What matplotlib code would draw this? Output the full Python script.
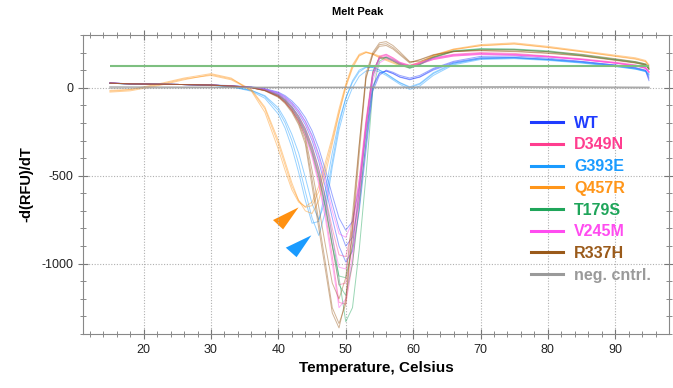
import numpy as np
import matplotlib
matplotlib.use("Agg")
from matplotlib import pyplot as plt
from matplotlib.lines import Line2D

plt.rcParams['font.family'] = ['Liberation Sans', 'DejaVu Sans']
plt.rcParams['axes.unicode_minus'] = False

# temperature grid (deg C) shared by all melt curves
temp = [15, 18, 22, 26, 30, 33, 36, 38, 40, 41, 42, 43, 44, 45, 46, 47, 48, 49, 50,
        51, 52, 53, 54, 55, 56, 57, 58, 59.5, 61, 63, 66, 70, 75, 80, 85, 90, 93, 94.5, 95]

# -d(RFU)/dT, one list per replicate
wt = [
    [28, 22, 20, 18, 16, 12, 5, -5, -25, -45, -75, -115, -170, -245, -345, -470, -610, -740, -810,
     -760, -560, -260, 10, 85, 95, 80, 60, 45, 60, 100, 140, 165, 170, 160, 145, 125, 110, 95, 40],
    [25, 22, 20, 18, 15, 10, 3, -8, -30, -52, -85, -130, -190, -270, -380, -510, -660, -800, -900,
     -850, -640, -320, 0, 80, 95, 82, 62, 48, 62, 105, 145, 170, 172, 162, 148, 128, 112, 98, 50],
    [27, 22, 20, 18, 15, 10, 2, -10, -35, -60, -95, -145, -210, -300, -420, -570, -740, -900, -990,
     -930, -700, -360, -20, 70, 100, 88, 70, 55, 70, 110, 150, 178, 180, 168, 150, 130, 115, 100, 60],
]
d349n = [
    [26, 22, 20, 18, 15, 10, 2, -12, -40, -68, -108, -160, -230, -330, -460, -620, -800, -950, -960,
     -800, -520, -180, 90, 170, 175, 155, 135, 122, 135, 160, 180, 190, 185, 175, 160, 140, 125, 110, 90],
    [26, 22, 20, 18, 15, 9, 0, -15, -45, -75, -118, -175, -250, -360, -500, -680, -900, -1120, -1110,
     -900, -580, -200, 80, 175, 185, 165, 140, 125, 140, 165, 185, 195, 190, 178, 160, 140, 125, 110, 85],
    [26, 22, 20, 18, 15, 9, 0, -15, -48, -80, -125, -185, -265, -380, -530, -720, -960, -1220, -1230,
     -1000, -640, -230, 70, 180, 190, 170, 145, 128, 145, 170, 190, 200, 195, 180, 165, 145, 130, 115, 90],
]
g393e = [
    [25, 22, 20, 18, 14, 6, -15, -50, -130, -200, -300, -430, -590, -740, -840, -700, -450, -240, -95,
     0, 65, 95, 100, 90, 70, 45, 20, -10, 10, 70, 130, 160, 165, 155, 140, 120, 105, 92, 70],
    [25, 22, 20, 18, 14, 5, -20, -60, -150, -230, -340, -480, -640, -770, -760, -580, -370, -190, -60,
     30, 90, 115, 115, 100, 78, 52, 28, 0, 20, 80, 135, 165, 168, 158, 142, 122, 106, 92, 75],
    [26, 22, 20, 18, 14, 6, -15, -45, -115, -180, -265, -370, -510, -660, -750, -640, -420, -210, -60,
     40, 100, 118, 115, 100, 80, 55, 30, 5, 25, 85, 140, 170, 172, 160, 145, 125, 108, 95, 78],
]
q457r = [
    [-15, -10, 20, 55, 80, 55, -20, -140, -350, -470, -580, -650, -676, -650, -560, -420, -280, -120, 20,
     130, 190, 205, 190, 170, 155, 140, 125, 115, 135, 180, 215, 240, 250, 230, 205, 180, 165, 150, 120],
    [-25, -18, 10, 45, 75, 50, -10, -110, -300, -420, -540, -640, -700, -715, -640, -490, -320, -150, 0,
     110, 180, 200, 195, 180, 165, 150, 135, 125, 145, 185, 220, 245, 255, 235, 210, 185, 170, 155, 130],
    [-20, -12, 15, 50, 70, 45, -15, -120, -320, -440, -560, -640, -680, -670, -590, -450, -300, -140, 10,
     120, 185, 200, 190, 175, 160, 145, 130, 120, 140, 182, 218, 238, 248, 228, 205, 178, 162, 148, 125],
]
t179s = [
    [25, 22, 20, 18, 15, 10, 2, -12, -40, -68, -108, -162, -235, -335, -465, -630, -840, -1080, -1330,
     -1250, -920, -500, -20, 150, 175, 160, 140, 115, 135, 175, 210, 222, 220, 210, 188, 162, 148, 135, 110],
    [25, 22, 20, 18, 15, 10, 2, -12, -42, -70, -110, -168, -245, -350, -490, -670, -890, -1120, -1180,
     -1000, -680, -300, 60, 165, 172, 155, 135, 112, 132, 172, 208, 220, 218, 205, 185, 160, 145, 132, 105],
    [25, 22, 20, 18, 15, 10, 2, -14, -45, -75, -118, -178, -260, -370, -510, -690, -900, -1070, -1080,
     -900, -580, -220, 90, 170, 170, 152, 130, 110, 130, 170, 205, 218, 215, 205, 182, 158, 142, 130, 105],
]
v245m = [
    [26, 22, 20, 18, 15, 10, 3, -8, -30, -55, -90, -135, -195, -280, -395, -540, -700, -830, -850,
     -760, -520, -230, 40, 140, 165, 155, 135, 118, 135, 160, 180, 188, 185, 175, 160, 140, 125, 112, 90],
    [26, 22, 20, 18, 15, 10, 2, -12, -40, -68, -110, -165, -240, -345, -480, -650, -850, -1020, -1030,
     -850, -560, -210, 70, 165, 180, 160, 140, 122, 140, 165, 185, 192, 188, 176, 160, 140, 125, 112, 88],
    [26, 22, 20, 18, 15, 9, 0, -15, -50, -82, -128, -190, -275, -395, -550, -750, -1000, -1250, -1200,
     -950, -600, -220, 80, 175, 190, 170, 145, 125, 142, 168, 188, 196, 190, 178, 162, 142, 128, 114, 90],
]
r337h = [
    [26, 22, 20, 18, 15, 9, 0, -18, -55, -90, -140, -210, -320, -560, -800, -1040, -1280, -1365, -1200,
     -780, -330, 80, 200, 255, 262, 240, 205, 148, 150, 175, 205, 215, 215, 205, 190, 165, 148, 135, 115],
    [26, 22, 20, 18, 15, 9, 0, -16, -50, -85, -132, -200, -300, -520, -760, -1000, -1250, -1340, -1230,
     -820, -380, 50, 190, 245, 250, 228, 195, 145, 160, 188, 208, 212, 208, 198, 182, 158, 142, 130, 108],
    [26, 22, 20, 18, 15, 9, 0, -16, -50, -82, -128, -190, -280, -470, -680, -900, -1110, -1200, -1080,
     -720, -320, 60, 185, 235, 240, 220, 188, 140, 158, 185, 205, 210, 205, 195, 180, 155, 140, 128, 105],
]

# negative controls (no template)
temp_neg = [15, 30, 45, 60, 75, 95]
neg = [
    [5, 3, 2, 4, 6, 3],
    [-2, 0, 1, 0, 2, -1],
]

threshold = 125

labels = ["WT", "D349N", "G393E", "Q457R", "T179S", "V245M", "R337H", "neg. cntrl."]
colors = ["#1f3cff", "#ff3d8f", "#1a9bff", "#ff961a", "#1fa55a", "#ff4cf0", "#9a5a1a", "#9a9a9a"]
series = [wt, d349n, g393e, q457r, t179s, v245m, r337h]

# arrows marking the shallow G393E / Q457R peaks
arrow_orange = [(43.0, -680), (39.2, -752), (40.7, -805)]
arrow_blue = [(44.9, -839), (41.1, -909), (42.7, -963)]

fig = plt.figure(figsize=(6.73, 3.88), dpi=100)
ax = fig.add_axes([0.1233, 0.139, 0.871, 0.771])

for reps, c in zip(series, colors):
    for r in reps:
        ax.plot(temp, r, color=c, lw=0.7, alpha=0.45)
for r in neg:
    ax.plot(temp_neg, r, color=colors[-1], lw=1.0, alpha=0.7)

ax.hlines(threshold, 15, 95, color="#7dbf80", lw=1.5)

ax.fill(*zip(*arrow_orange), color="#ff9010", lw=0)
ax.fill(*zip(*arrow_blue), color="#1a9bff", lw=0)

ax.set_xlim(11, 98)
ax.set_ylim(-1400, 300)
ax.set_xticks(np.arange(20, 91, 10))
ax.set_xticks(np.arange(12, 98, 2), minor=True)
ax.set_yticks([-1000, -500, 0])
ax.set_yticks(np.arange(-1400, 301, 100), minor=True)
ax.grid(True, which="major", color="#b0b0b0", ls=(0, (1, 1.5)), lw=0.8)
ax.tick_params(which="both", direction="inout", top=True, right=True,
               colors="#777777", labelcolor="#222222", labelsize=9)
ax.tick_params(which="major", length=7)
ax.tick_params(which="minor", length=4)
for s in ax.spines.values():
    s.set_color("#888888")

fig.text(0.532, 0.968, "Melt Peak", fontsize=8, fontweight="bold", ha="center", va="center")
ax.set_xlabel("Temperature, Celsius", fontsize=11, fontweight="bold", labelpad=4)
ax.set_ylabel("-d(RFU)/dT", fontsize=10.5, fontweight="bold", labelpad=6)

handles = [Line2D([], [], color=c, lw=2.2) for c in colors]
leg = ax.legend(handles, labels, loc="upper left", bbox_to_anchor=(0.74, 0.778),
                frameon=False, handlelength=2.0, handletextpad=0.7, labelspacing=0.42,
                prop={"weight": "bold", "size": 11.5})
for t, c in zip(leg.get_texts(), colors):
    t.set_color(c)

plt.savefig("out.png", dpi=100)
